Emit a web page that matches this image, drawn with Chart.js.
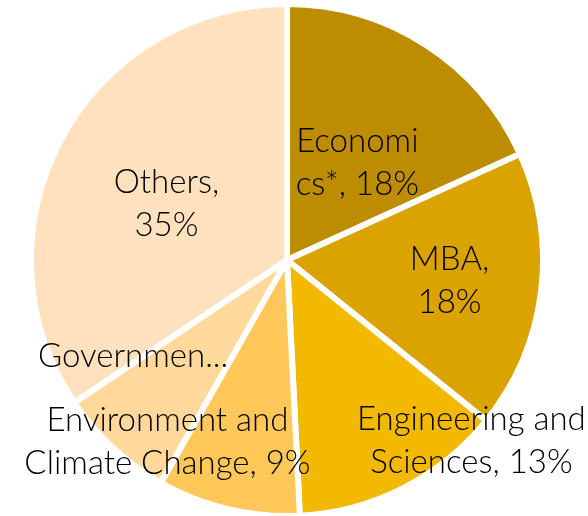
<!DOCTYPE html>
<html>
<head>
<meta charset="utf-8">
<script src="https://cdn.jsdelivr.net/npm/chart.js@4"></script>
<style>
  html, body { margin: 0; padding: 0; background: #fff; overflow: hidden; }
  #wrap { width: 588px; height: 522px; }
</style>
</head>
<body>
<div id="wrap"><canvas id="pie"></canvas></div>
<script>
const categories = ["Economics*", "MBA", "Engineering and Sciences", "Environment and Climate Change", "Government", "Others"];
const shares = [18.2, 17.6, 13.4, 9.0, 7.4, 34.4];
// text as it appears on the slices (wrapped / cut like the original)
const labelLines = [
  ["Economi", "cs*, 18%"],
  ["MBA,", "18%"],
  ["Engineering and", "Sciences, 13%"],
  ["Environment and", "Climate Change, 9%"],
  ["Governmen..."],
  ["Others,", "35%"]
];
const colors = ["#BD8C00", "#DAA300", "#F3B800", "#FFC859", "#FFD89B", "#FFE1BE"];

// where each label sits: fraction of radius, shift from slice mid angle (deg)
const labelPlace = [[0.47, 3], [0.64, 0], [1.01, -18.5], [0.85, 20], [0.71, 15], [0.52, -3]];

const FONT = "300 33px Lato";
const LINE_H = 43;

const sliceLabels = {
  id: 'sliceLabels',
  afterDatasetsDraw(chart){
    const ctx = chart.ctx;
    const arcs = chart.getDatasetMeta(0).data;
    ctx.save();
    ctx.font = FONT;
    ctx.fillStyle = "#000";
    ctx.textAlign = "center";
    ctx.textBaseline = "middle";
    arcs.forEach((arc, i) => {
      const p = arc.getProps(['x', 'y', 'startAngle', 'endAngle', 'outerRadius'], true);
      const mid = (p.startAngle + p.endAngle) / 2 + labelPlace[i][1] * Math.PI / 180;
      const r = p.outerRadius * labelPlace[i][0];
      const cx = p.x + Math.cos(mid) * r;
      const cy = p.y + Math.sin(mid) * r;
      const lines = labelLines[i];
      lines.forEach((line, j) => {
        ctx.fillText(line, cx, cy + (j - (lines.length - 1) / 2) * LINE_H);
      });
    });
    ctx.restore();
  }
};

new Chart(document.getElementById('pie'), {
  type: 'pie',
  data: {
    labels: categories,
    datasets: [{
      data: shares,
      backgroundColor: colors,
      borderColor: "#fff",
      borderWidth: 6,
      hoverOffset: 0,
      offset: 0
    }]
  },
  options: {
    responsive: true,
    maintainAspectRatio: false,
    animation: false,
    layout: { padding: { left: 28, right: 42, top: 1, bottom: 3 } },
    plugins: {
      legend: { display: false },
      tooltip: { enabled: false }
    }
  },
  plugins: [sliceLabels]
});
</script>
</body>
</html>
